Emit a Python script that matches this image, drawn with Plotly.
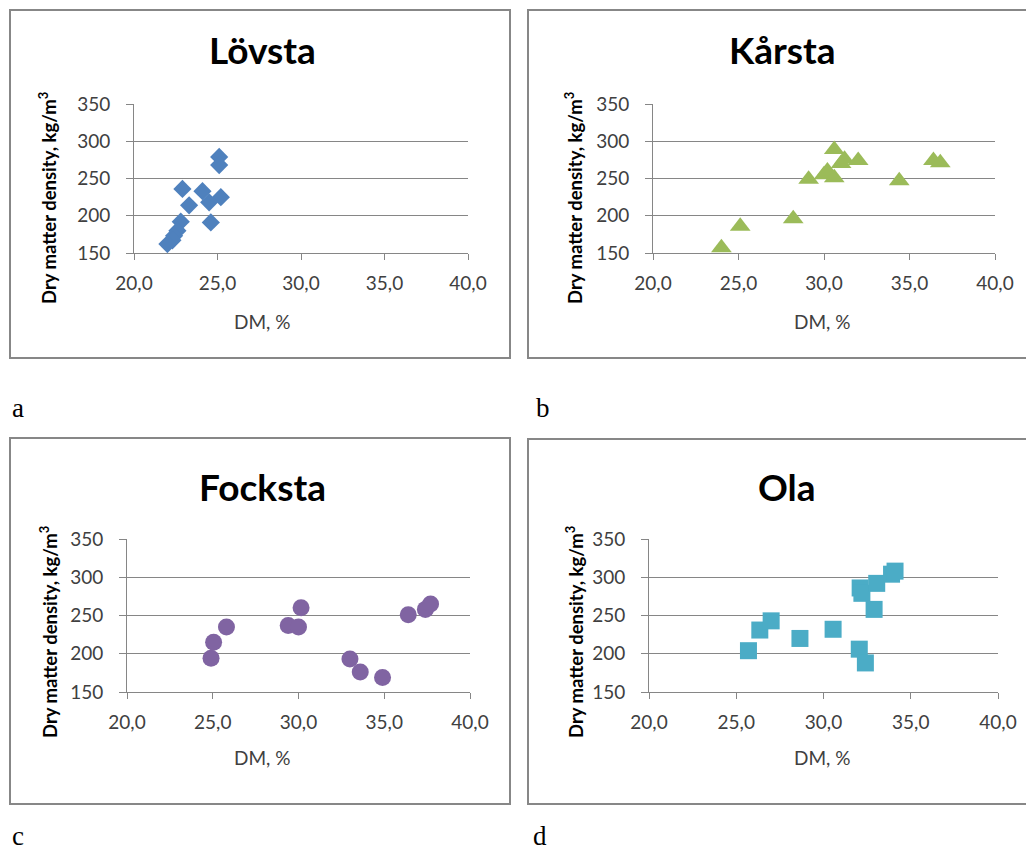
import plotly.graph_objects as go

# page has an 8px body margin; figure sized so that margin + figure = window
OFF = 8
W, H = 1034 - OFF, 851 - OFF

# ---------------- data ----------------
x_ticks = [20, 25, 30, 35, 40]
x_tick_labels = ["20,0", "25,0", "30,0", "35,0", "40,0"]
y_ticks = [150, 200, 250, 300, 350]
y_tick_labels = ["150", "200", "250", "300", "350"]

lovsta_dm = [25.1, 25.1, 22.9, 24.1, 25.2, 24.5, 23.3, 24.6, 22.8, 22.6, 22.4, 22.3, 22.0]
lovsta_density = [279, 268, 236, 233, 225, 218, 214, 191, 192, 180, 173, 167, 162]

karsta_dm = [24.0, 25.1, 28.2, 29.1, 30.0, 30.2, 30.6, 30.6, 31.0, 31.2, 32.0, 34.4, 36.4, 36.8]
karsta_density = [157, 186, 196, 249, 255, 260, 251, 289, 270, 276, 274, 247, 274, 271]

focksta_dm = [24.9, 25.05, 25.8, 29.4, 30.0, 30.15, 33.0, 33.6, 34.9, 36.4, 37.4, 37.7]
focksta_density = [194, 215, 235, 237, 235, 260, 193, 176, 169, 251, 258, 265]

ola_dm = [25.7, 26.35, 27.0, 28.65, 30.55, 32.05, 32.4, 32.1, 32.2, 32.9, 33.05, 33.9, 34.1]
ola_density = [204, 231, 243, 220, 232, 206, 188, 286, 279, 258, 292, 304, 308]

titles = ["Lövsta", "Kårsta", "Focksta", "Ola"]
panel_letters = ["a", "b", "c", "d"]
y_title = "Dry matter density, kg/m<sup>3</sup>"
x_title = "DM, %"

# ---------------- styling ----------------
FONT = "Lato"
GRID = "#868686"
TICKC = "#404040"

def px(v):
    return (v - OFF) / W

def py(v):
    return 1 - (v - OFF) / H

# plot areas in page pixels: (left, right, top, bottom)
areas = [
    (134, 468, 104, 253),
    (653, 995, 104, 253),
    (127, 470, 539, 692),
    (649, 998, 539, 692),
]
boxes = [
    (10, 510, 10, 358),
    (528, 1030, 10, 358),
    (10, 510, 438, 804),
    (528, 1030, 439, 804),
]
title_pos = [(262, 50), (782, 50), (262, 487), (787, 487)]
ytitle_pos = [(48, 198), (574, 198), (48, 632), (574, 632)]
xtitle_pos = [(262, 321), (822, 321), (262, 757), (822, 757)]
letter_pos = [(18, 408), (543, 408), (18, 836), (540, 836)]

series = [
    (lovsta_dm, lovsta_density, "diamond", "#4F81BD", 14),
    (karsta_dm, karsta_density, "triangle-up", "#9BBB59", 18),
    (focksta_dm, focksta_density, "circle", "#8064A2", 17),
    (ola_dm, ola_density, "square", "#4BACC6", 17),
]

fig = go.Figure()
layout = dict(
    template="none",
    width=W, height=H, autosize=False,
    margin=dict(l=0, r=0, t=0, b=0, pad=0),
    paper_bgcolor="white", plot_bgcolor="white",
    showlegend=False,
    font=dict(family=FONT, color="black"),
)
annotations = []
shapes = []

for i, ((xs, ys, sym, col, sz), (l, r, t, b)) in enumerate(zip(series, areas)):
    n = "" if i == 0 else str(i + 1)
    fig.add_trace(go.Scatter(
        x=xs, y=ys, mode="markers",
        marker=dict(symbol=sym, color=col, size=sz, line=dict(width=0)),
        xaxis="x" + n, yaxis="y" + n, name=titles[i],
    ))
    layout["xaxis" + n] = dict(
        domain=[px(l), px(r)], anchor="y" + n, automargin=False,
        range=[20, 40], tickvals=x_ticks, ticktext=x_tick_labels,
        showgrid=False, zeroline=False,
        showline=True, linecolor=GRID, linewidth=1,
        ticks="outside", ticklen=6, tickcolor=GRID, tickwidth=1,
        tickfont=dict(family=FONT, size=19, color=TICKC),
        ticklabelstandoff=7,
    )
    layout["yaxis" + n] = dict(
        domain=[py(b), py(t)], anchor="x" + n, automargin=False,
        range=[150, 350], tickvals=y_ticks, ticktext=y_tick_labels,
        showgrid=True, gridcolor=GRID, gridwidth=1, zeroline=False,
        showline=True, linecolor=GRID, linewidth=1,
        ticks="outside", ticklen=7, tickcolor=GRID, tickwidth=1,
        tickfont=dict(family=FONT, size=19, color=TICKC),
        ticklabelstandoff=12,
    )
    bl, br, bt, bb = boxes[i]
    shapes.append(dict(type="rect", xref="paper", yref="paper",
                       x0=px(bl), x1=px(br), y0=py(bb), y1=py(bt),
                       line=dict(color="#878787", width=2), fillcolor="rgba(0,0,0,0)"))
    tx, ty = title_pos[i]
    annotations.append(dict(text="<b>%s</b>" % titles[i], x=px(tx), y=py(ty),
                            xref="paper", yref="paper", showarrow=False,
                            xanchor="center", yanchor="middle",
                            font=dict(family=FONT, size=37, color="black")))
    yx, yy = ytitle_pos[i]
    annotations.append(dict(text="<b>%s</b>" % y_title, x=px(yx), y=py(yy),
                            xref="paper", yref="paper", showarrow=False,
                            textangle=-90, xanchor="center", yanchor="middle",
                            font=dict(family=FONT, size=18.5, color="black")))
    xx, xy = xtitle_pos[i]
    annotations.append(dict(text=x_title, x=px(xx), y=py(xy),
                            xref="paper", yref="paper", showarrow=False,
                            xanchor="center", yanchor="middle",
                            font=dict(family=FONT, size=19, color=TICKC)))
    lx, ly = letter_pos[i]
    annotations.append(dict(text=panel_letters[i], x=px(lx), y=py(ly),
                            xref="paper", yref="paper", showarrow=False,
                            xanchor="center", yanchor="middle",
                            font=dict(family="Liberation Serif", size=27, color="black")))

layout["annotations"] = annotations
layout["shapes"] = shapes
fig.update_layout(**layout)
fig.write_html("out.html")
